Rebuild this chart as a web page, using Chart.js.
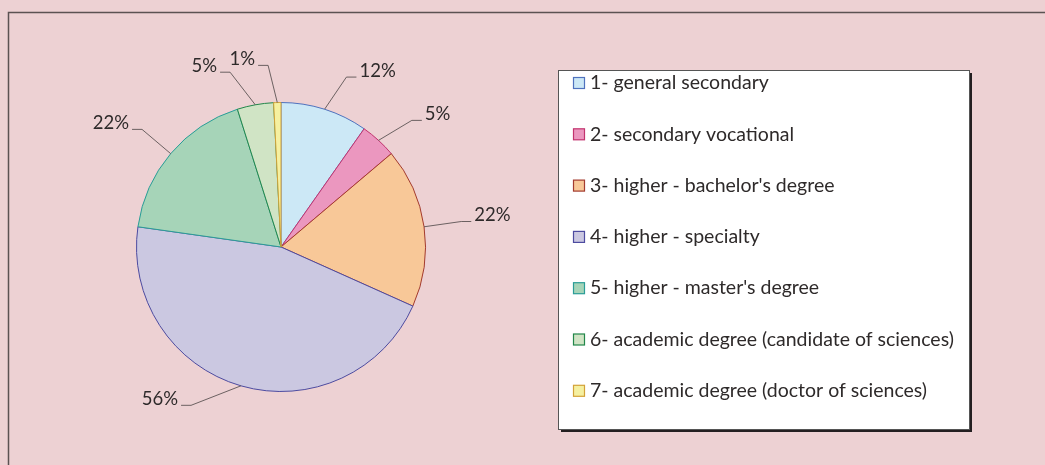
<!DOCTYPE html>
<html>
<head>
<meta charset="utf-8">
<script src="https://cdn.jsdelivr.net/npm/chart.js@4"></script>
<style>
  html, body { margin: 0; padding: 0; background: #edd1d3; }
  canvas { display: block; }
</style>
</head>
<body>
<canvas id="myChart" width="1045" height="465"></canvas>
<script>
// education levels and their shares (%) as printed on the chart
var categories = [
  "1- general secondary",
  "2- secondary vocational",
  "3- higher - bachelor's degree",
  "4- higher - specialty",
  "5- higher - master's degree",
  "6- academic degree (candidate of sciences)",
  "7- academic degree (doctor of sciences)",
];
var shares = [12, 5, 22, 56, 22, 5, 1];

var fillColors = ["#cce8f6", "#eb97bf", "#f8c898", "#cbc8e1", "#a6d4b8", "#d0e4c5", "#f5f0a0"];
var edgeColors = ["#4f72be", "#c2336e", "#a33b2f", "#4d4ba0", "#2a9d97", "#22874a", "#d3a238"];

var FONT = "Lato, 'Noto Sans', sans-serif";

// background + outer frame
var framePlugin = {
  id: "frame",
  beforeDraw: function (chart) {
    var ctx = chart.ctx;
    ctx.save();
    ctx.fillStyle = "#edd1d3";
    ctx.fillRect(0, 0, chart.width, chart.height);
    ctx.strokeStyle = "#5b5252";
    ctx.lineWidth = 1.5;
    ctx.beginPath();
    ctx.moveTo(8.5, chart.height);
    ctx.lineTo(8.5, 12.5);
    ctx.lineTo(chart.width, 12.5);
    ctx.stroke();
    ctx.restore();
  },
};

// leader lines with value labels
var labelPlugin = {
  id: "leaderLabels",
  afterDatasetsDraw: function (chart, args, opts) {
    var ctx = chart.ctx;
    var meta = chart.getDatasetMeta(0);
    ctx.save();
    ctx.font = "18.5px " + FONT;
    ctx.fillStyle = "#2e2a2a";
    ctx.strokeStyle = "#4a4444";
    ctx.lineWidth = 0.8;
    meta.data.forEach(function (arc, i) {
      var mid = (arc.startAngle + arc.endAngle) / 2;
      var r = arc.outerRadius;
      var ax = arc.x + Math.cos(mid) * r;
      var ay = arc.y + Math.sin(mid) * r;
      var a2 = mid + (opts.shift[i] * Math.PI) / 180;
      var ex = arc.x + Math.cos(a2) * r * 1.26;
      var ey = arc.y + Math.sin(a2) * r * 1.26;
      var dir = ex >= arc.x ? 1 : -1;
      var hx = ex + dir * 10;
      ctx.beginPath();
      ctx.moveTo(ax, ay);
      ctx.lineTo(ex, ey);
      ctx.lineTo(hx, ey);
      ctx.stroke();
      ctx.textAlign = dir > 0 ? "left" : "right";
      ctx.textBaseline = "middle";
      ctx.fillText(chart.data.datasets[0].data[i] + "%", hx + dir * 3, ey - 6);
    });
    ctx.restore();
  },
};

// boxed legend on the right
var legendBoxPlugin = {
  id: "legendBox",
  afterDraw: function (chart) {
    var ctx = chart.ctx;
    var x = 558, y = 70, w = 411, h = 359;
    ctx.save();
    ctx.fillStyle = "#231f20";
    ctx.fillRect(x + 3, y + 3, w, h);
    ctx.fillStyle = "#ffffff";
    ctx.fillRect(x, y, w, h);
    ctx.strokeStyle = "#555";
    ctx.lineWidth = 1;
    ctx.strokeRect(x + 0.5, y + 0.5, w, h);
    ctx.font = "19.5px " + FONT;
    ctx.textBaseline = "middle";
    ctx.textAlign = "left";
    chart.data.labels.forEach(function (lab, i) {
      var cy = 83 + i * 51.3;
      ctx.fillStyle = fillColors[i];
      ctx.fillRect(573.5, cy - 5.5, 11, 11);
      ctx.strokeStyle = edgeColors[i];
      ctx.lineWidth = 1.2;
      ctx.strokeRect(573.5, cy - 5.5, 11, 11);
      ctx.fillStyle = "#2e2a2a";
      ctx.fillText(lab, 590, cy);
    });
    ctx.restore();
  },
};

var ctx = document.getElementById("myChart").getContext("2d");
var myChart = new Chart(ctx, {
  type: "pie",
  data: {
    labels: categories,
    datasets: [
      {
        data: shares,
        backgroundColor: fillColors,
        borderColor: edgeColors,
        borderWidth: 1,
      },
    ],
  },
  options: {
    responsive: false,
    animation: false,
    layout: {
      padding: { left: 136, right: 619, top: 102, bottom: 73 },
    },
    plugins: {
      legend: { display: false },
      tooltip: { enabled: false },
      leaderLabels: { shift: [3.5, 3.5, 0, 13.5, 0, -6, -2.6] },
    },
  },
  plugins: [framePlugin, labelPlugin, legendBoxPlugin],
});
</script>
</body>
</html>
